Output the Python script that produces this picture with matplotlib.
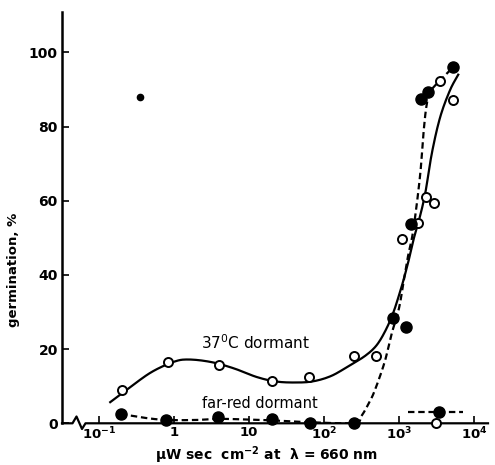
import numpy as np
import matplotlib
matplotlib.use("Agg")
import matplotlib.pyplot as plt
import matplotlib.transforms as mtransforms

# ---- data ----
# 37 C dormant seeds (open circles)
open_x = [0.20, 0.82, 4.0, 20, 63, 250, 495, 1090, 1820, 2290, 2930, 3540, 5240]
open_y = [9.0, 16.5, 15.6, 11.3, 12.5, 18.2, 18.2, 49.7, 54.0, 61.0, 59.5, 92.2, 87.1]
# far-red dormant seeds (filled circles)
filled_x = [0.195, 0.78, 3.9, 20, 65, 251, 826, 1240, 1440, 1960, 2460, 5220]
filled_y = [2.5, 0.9, 1.6, 1.1, 0.0, 0.0, 28.3, 26.0, 53.7, 87.5, 89.2, 96.0]
# dark controls (right)
ctrl_open_x = [3090]
ctrl_open_y = [0.0]
ctrl_filled_x = [3400]
ctrl_filled_y = [3.1]
ctrl_range_x = [1320, 7200]
ctrl_range_y = [3.1, 3.1]
# stray dots in the scan
stray_x = [0.352]
stray_y = [87.9]

# hand-drawn fitted curves (log10 x, y)
solid_logx = [-0.85, -0.6, -0.3, 0.0, 0.2, 0.5, 0.8, 1.1, 1.35, 1.6, 1.85, 2.1,
              2.35, 2.55, 2.70, 2.82, 2.92, 3.0, 3.06, 3.13, 3.2, 3.27, 3.35,
              3.44, 3.55, 3.68, 3.79]
solid_y = [5.7, 9.5, 13.8, 16.6, 17.2, 16.5, 14.8, 12.5, 11.3, 11.0, 11.3, 12.8,
           15.7, 18.2, 21.0, 25.0, 29.6, 34.5, 38.6, 44.0, 50.0, 55.0, 62.0,
           73.0, 82.6, 89.8, 94.0]
dashed_logx = [-0.71, -0.4, -0.1, 0.3, 0.6, 1.0, 1.3, 1.8, 2.4, 2.5, 2.6, 2.68,
               2.81, 2.9, 3.0, 3.06, 3.12, 3.19, 3.28, 3.33, 3.37, 3.42, 3.55, 3.72]
dashed_y = [2.5, 1.5, 0.9, 0.9, 1.2, 1.0, 0.8, 0.3, 0.1, 2.0, 5.5, 9.0,
            16.6, 24.0, 31.0, 38.0, 45.0, 52.0, 66.5, 79.0, 86.0, 89.5, 92.5, 96.0]

xtick_vals = [0.1, 1, 10, 100, 1000, 10000]
xtick_labels = ['10$^{-1}$', '1', '10', '10$^{2}$', '10$^{3}$', '10$^{4}$']
ytick_vals = [0, 20, 40, 60, 80, 100]


def catmull_rom(xs, ys, n=12):
    xs = np.asarray(xs, float)
    ys = np.asarray(ys, float)
    P = np.column_stack([xs, ys])
    P = np.vstack([2 * P[0] - P[1], P, 2 * P[-1] - P[-2]])
    out = []
    for i in range(1, len(P) - 2):
        p0, p1, p2, p3 = P[i - 1], P[i], P[i + 1], P[i + 2]
        for t in np.linspace(0, 1, n, endpoint=False):
            t2, t3 = t * t, t * t * t
            pt = 0.5 * ((2 * p1) + (-p0 + p2) * t + (2 * p0 - 5 * p1 + 4 * p2 - p3) * t2
                        + (-p0 + 3 * p1 - 3 * p2 + p3) * t3)
            out.append(pt)
    out.append(P[-2])
    out = np.array(out)
    return out[:, 0], out[:, 1]


plt.rcParams['font.family'] = ['DejaVu Sans']
plt.rcParams['mathtext.default'] = 'bf'

fig = plt.figure(figsize=(4.95, 4.65), dpi=100)
ax = fig.add_axes([62 / 495, 1 - 423.3 / 465, 426 / 495, (423.3 - 12) / 465])
ax.set_xscale('log')
ax.set_xlim(10 ** -1.493, 10 ** 4.187)
ax.set_ylim(0, 110.9)

for s in ['top', 'right', 'bottom']:
    ax.spines[s].set_visible(False)
ax.spines['left'].set_linewidth(1.8)

# x axis with break
trans = mtransforms.blended_transform_factory(ax.transAxes, ax.transData)
bx = np.array([62, 72.5, 76.5, 82, 85.5, 488])
by = np.array([423.3, 423.3, 416.5, 429.0, 423.3, 423.3])
ax.plot((bx - 62) / 426, (423.3 - by) / 3.71, transform=trans, color='black',
        lw=1.6, clip_on=False, zorder=3)

ax.set_xticks(xtick_vals)
ax.set_xticklabels(xtick_labels, fontsize=9.5, fontweight='bold')
ax.xaxis.set_minor_locator(matplotlib.ticker.NullLocator())
ax.set_yticks(ytick_vals)
ax.set_yticklabels([str(v) for v in ytick_vals], fontsize=10, fontweight='bold')
ax.tick_params(axis='x', direction='in', length=5, width=1.2, pad=2)
ax.tick_params(axis='y', direction='in', length=5, width=1.2, pad=3)

# curves
sx, sy = catmull_rom(solid_logx, solid_y)
ax.plot(10 ** sx, sy, color='black', lw=1.6, zorder=2)
dx, dy = catmull_rom(dashed_logx, dashed_y)
ax.plot(10 ** dx, dy, color='black', lw=1.6, dashes=(2.9, 1.7), zorder=2)
ax.plot(ctrl_range_x, ctrl_range_y, color='black', lw=1.6, dashes=(2.9, 1.7), zorder=2)

# points
ax.plot(open_x, open_y, 'o', ms=6.5, mfc='white', mec='black', mew=1.4,
        clip_on=False, zorder=4)
ax.plot(ctrl_open_x, ctrl_open_y, 'o', ms=6.5, mfc='white', mec='black', mew=1.4,
        clip_on=False, zorder=4)
ax.plot(filled_x, filled_y, 'o', ms=8, color='black', clip_on=False, zorder=4)
ax.plot(ctrl_filled_x, ctrl_filled_y, 'o', ms=8, color='black', clip_on=False, zorder=4)
ax.plot(stray_x, stray_y, 'o', ms=4.5, color='black', zorder=4)

# annotations
ax.text(10 ** ((256 - 174) / 75), (423.3 - 343) / 3.71, '37$^{\\mathregular{0}}$C dormant',
        fontsize=11, ha='center', va='center')
ax.text(10 ** ((260 - 174) / 75), (423.3 - 403) / 3.71, 'far-red dormant',
        fontsize=10.5, ha='center', va='center')

ax.set_ylabel('germination, %', fontsize=9.5, fontweight='bold', labelpad=8)
ax.yaxis.set_label_coords(-0.098, (423.3 - 270) / 411.3)
fig.text(266 / 495, 1 - 455 / 465, '$\\mu$W sec  cm$^{-2}$ at  $\\lambda$ = 660 nm',
         fontsize=10, fontweight='bold', ha='center', va='center')

fig.savefig('out.png', dpi=100)
